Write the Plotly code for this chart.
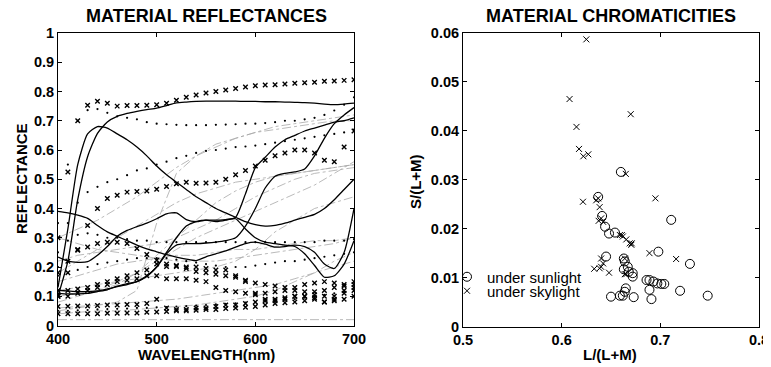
import plotly.graph_objects as go

# ---------------- LEFT: material reflectances ----------------
wavelength = [400, 410, 420, 430, 440, 450, 460, 470, 480, 490, 500, 510, 520, 530, 540, 550,
              560, 570, 580, 590, 600, 610, 620, 630, 640, 650, 660, 670, 680, 690, 700]

# solid spectra
solid_1 = [0.13, 0.33, 0.55, 0.655, 0.68, 0.675, 0.655, 0.635, 0.61, 0.58, 0.545, 0.515, 0.49, 0.465, 0.44, 0.42,
           0.40, 0.385, 0.37, 0.355, 0.345, 0.34, 0.342, 0.35, 0.36, 0.37, 0.38, 0.40, 0.43, 0.465, 0.50]
solid_2 = [0.10, 0.22, 0.43, 0.577, 0.657, 0.696, 0.715, 0.725, 0.732, 0.738, 0.743, 0.752, 0.761, 0.764, 0.766, 0.767,
           0.767, 0.767, 0.767, 0.766, 0.766, 0.765, 0.765, 0.764, 0.763, 0.762, 0.76, 0.757, 0.755, 0.757, 0.76]
solid_3 = [0.39, 0.385, 0.377, 0.366, 0.342, 0.32, 0.305, 0.29, 0.275, 0.262, 0.252, 0.242, 0.234, 0.227, 0.222, 0.235,
           0.245, 0.255, 0.268, 0.28, 0.285, 0.278, 0.268, 0.27, 0.275, 0.27, 0.25, 0.21, 0.195, 0.25, 0.40]
solid_4 = [0.234, 0.22, 0.216, 0.218, 0.24, 0.27, 0.305, 0.325, 0.338, 0.35, 0.365, 0.382, 0.385, 0.362, 0.355, 0.36,
           0.36, 0.362, 0.365, 0.33, 0.30, 0.285, 0.28, 0.275, 0.27, 0.245, 0.205, 0.165, 0.17, 0.21, 0.29]
solid_5 = [0.12, 0.118, 0.116, 0.116, 0.118, 0.125, 0.133, 0.14, 0.15, 0.168, 0.20, 0.245, 0.275, 0.28, 0.28, 0.282,
           0.285, 0.29, 0.30, 0.34, 0.40, 0.47, 0.51, 0.52, 0.525, 0.535, 0.58, 0.64, 0.69, 0.72, 0.745]
solid_6 = [0.11, 0.108, 0.108, 0.11, 0.116, 0.122, 0.135, 0.143, 0.15, 0.17, 0.20, 0.25, 0.30, 0.34, 0.355, 0.36,
           0.355, 0.36, 0.37, 0.45, 0.54, 0.575, 0.61, 0.635, 0.65, 0.665, 0.675, 0.685, 0.695, 0.70, 0.71]
solid_series = [solid_1, solid_2, solid_3, solid_4, solid_5, solid_6]

# spectra drawn with x markers
cross_a = [0.30, 0.525, 0.70, 0.753, 0.767, 0.76, 0.75, 0.752, 0.752, 0.753, 0.755, 0.76, 0.77, 0.78, 0.788, 0.795,
           0.80, 0.805, 0.81, 0.815, 0.82, 0.822, 0.823, 0.826, 0.828, 0.83, 0.832, 0.835, 0.836, 0.838, 0.84]
cross_b = [0.10, 0.18, 0.257, 0.342, 0.40, 0.434, 0.445, 0.456, 0.458, 0.46, 0.466, 0.475, 0.485, 0.49, 0.486, 0.487,
           0.49, 0.50, 0.515, 0.53, 0.545, 0.565, 0.58, 0.59, 0.60, 0.60, 0.59, 0.565, 0.56, 0.61, 0.665]
cross_c = [0.18, 0.22, 0.26, 0.268, 0.28, 0.285, 0.285, 0.28, 0.263, 0.243, 0.223, 0.202, 0.202, 0.195, 0.185, 0.18,
           0.175, 0.17, 0.165, 0.155, 0.145, 0.14, 0.135, 0.13, 0.13, 0.14, 0.145, 0.15, 0.145, 0.14, 0.15]
cross_d = [0.065, 0.066, 0.067, 0.067, 0.068, 0.07, 0.07, 0.072, 0.072, 0.075, 0.09, 0.06, 0.055, 0.055, 0.06, 0.06,
           0.065, 0.07, 0.07, 0.075, 0.08, 0.085, 0.09, 0.095, 0.10, 0.10, 0.105, 0.10, 0.10, 0.11, 0.12]
cross_e = [0.04, 0.04, 0.04, 0.04, 0.04, 0.042, 0.042, 0.043, 0.043, 0.045, 0.046, 0.048, 0.05, 0.05, 0.052, 0.055,
           0.055, 0.058, 0.06, 0.062, 0.065, 0.07, 0.075, 0.078, 0.08, 0.085, 0.09, 0.08, 0.085, 0.09, 0.10]
cross_f = [0.10, 0.10, 0.11, 0.12, 0.13, 0.14, 0.15, 0.155, 0.16, 0.17, 0.17, 0.16, 0.16, 0.16, 0.155, 0.15,
           0.13, 0.12, 0.115, 0.11, 0.105, 0.11, 0.115, 0.12, 0.12, 0.115, 0.115, 0.12, 0.13, 0.135, 0.13]
cross_g = [0.12, 0.12, 0.125, 0.13, 0.14, 0.15, 0.16, 0.17, 0.18, 0.19, 0.21, 0.21, 0.205, 0.20, 0.20, 0.195,
           0.19, 0.19, 0.17, 0.15, 0.11, 0.09, 0.085, 0.09, 0.10, 0.10, 0.095, 0.08, 0.09, 0.12, 0.14]
cross_series = [cross_a, cross_b, cross_c, cross_d, cross_e, cross_f, cross_g]

# spectra drawn with dots
dot_a = [0.35, 0.55, 0.70, 0.736, 0.74, 0.727, 0.715, 0.71, 0.705, 0.695, 0.69, 0.688, 0.686, 0.685, 0.685, 0.685,
         0.686, 0.687, 0.688, 0.69, 0.69, 0.692, 0.695, 0.70, 0.70, 0.705, 0.71, 0.72, 0.735, 0.755, 0.78]
dot_b = [0.20, 0.35, 0.42, 0.456, 0.474, 0.49, 0.50, 0.514, 0.53, 0.537, 0.55, 0.56, 0.572, 0.58, 0.59, 0.597,
         0.60, 0.605, 0.61, 0.612, 0.615, 0.62, 0.625, 0.63, 0.635, 0.64, 0.645, 0.65, 0.655, 0.66, 0.67]
dot_c = [0.25, 0.29, 0.31, 0.315, 0.31, 0.30, 0.30, 0.295, 0.29, 0.29, 0.285, 0.285, 0.285, 0.285, 0.285, 0.285,
         0.285, 0.285, 0.285, 0.285, 0.285, 0.285, 0.285, 0.285, 0.285, 0.285, 0.285, 0.29, 0.29, 0.29, 0.295]
dot_d = [0.17, 0.18, 0.19, 0.20, 0.21, 0.215, 0.22, 0.225, 0.23, 0.23, 0.23, 0.23, 0.225, 0.22, 0.215, 0.21,
         0.205, 0.20, 0.20, 0.20, 0.205, 0.21, 0.215, 0.22, 0.22, 0.225, 0.23, 0.235, 0.24, 0.245, 0.25]
dot_e = [0.05, 0.05, 0.052, 0.053, 0.055, 0.056, 0.057, 0.058, 0.06, 0.06, 0.062, 0.063, 0.065, 0.066, 0.068, 0.07,
         0.072, 0.074, 0.076, 0.078, 0.08, 0.082, 0.085, 0.088, 0.09, 0.095, 0.10, 0.105, 0.11, 0.115, 0.12]
dot_series = [dot_a, dot_b, dot_c, dot_d, dot_e]

# spectra drawn as light dash-dot lines (sampled every 20 nm)
wavelength_coarse = [400, 420, 440, 460, 480, 500, 520, 540, 560, 580, 600, 620, 640, 660, 680, 700]
gray_1 = [0.30, 0.33, 0.36, 0.40, 0.44, 0.49, 0.54, 0.58, 0.61, 0.64, 0.66, 0.68, 0.69, 0.70, 0.71, 0.72]
gray_2 = [0.05, 0.06, 0.07, 0.08, 0.12, 0.35, 0.52, 0.58, 0.62, 0.64, 0.66, 0.67, 0.68, 0.69, 0.70, 0.70]
gray_3 = [0.18, 0.22, 0.26, 0.30, 0.34, 0.38, 0.42, 0.45, 0.47, 0.49, 0.50, 0.51, 0.52, 0.53, 0.54, 0.55]
gray_4 = [0.08, 0.10, 0.12, 0.15, 0.18, 0.22, 0.26, 0.30, 0.33, 0.36, 0.39, 0.42, 0.45, 0.48, 0.52, 0.56]
gray_5 = [0.30, 0.28, 0.26, 0.25, 0.24, 0.23, 0.22, 0.22, 0.22, 0.23, 0.24, 0.25, 0.26, 0.27, 0.28, 0.30]
gray_6 = [0.02, 0.02, 0.02, 0.02, 0.02, 0.02, 0.02, 0.02, 0.02, 0.02, 0.02, 0.02, 0.02, 0.02, 0.02, 0.02]
gray_7 = [0.12, 0.13, 0.14, 0.15, 0.16, 0.17, 0.18, 0.19, 0.20, 0.22, 0.26, 0.32, 0.36, 0.40, 0.42, 0.44]
gray_8 = [0.06, 0.065, 0.07, 0.075, 0.08, 0.085, 0.09, 0.10, 0.11, 0.12, 0.13, 0.14, 0.16, 0.18, 0.20, 0.22]
gray_9 = [0.22, 0.24, 0.25, 0.26, 0.27, 0.28, 0.30, 0.33, 0.36, 0.40, 0.44, 0.47, 0.50, 0.52, 0.53, 0.54]
gray_10 = [0.10, 0.11, 0.12, 0.14, 0.18, 0.24, 0.30, 0.36, 0.42, 0.46, 0.49, 0.51, 0.52, 0.53, 0.54, 0.55]
gray_11 = [0.04, 0.045, 0.05, 0.05, 0.055, 0.06, 0.065, 0.07, 0.08, 0.09, 0.10, 0.12, 0.15, 0.18, 0.22, 0.25]
gray_12 = [0.15, 0.17, 0.19, 0.21, 0.22, 0.23, 0.24, 0.24, 0.25, 0.26, 0.26, 0.27, 0.28, 0.29, 0.29, 0.30]
gray_series = [gray_1, gray_2, gray_3, gray_4, gray_5, gray_6, gray_7, gray_8, gray_9, gray_10, gray_11, gray_12]

# ---------------- RIGHT: chromaticities ----------------
sun_l = [0.660, 0.637, 0.641, 0.644, 0.648, 0.654, 0.645, 0.663, 0.664, 0.663, 0.667, 0.668, 0.672, 0.672,
         0.665, 0.664, 0.650, 0.659, 0.662, 0.673, 0.686, 0.689, 0.693, 0.697, 0.701, 0.704, 0.689, 0.691,
         0.698, 0.711, 0.720, 0.730, 0.748]
sun_s = [0.0316, 0.0265, 0.0226, 0.0204, 0.0190, 0.0192, 0.0143, 0.0139, 0.0133, 0.0117, 0.0122, 0.0112, 0.0109, 0.0102,
         0.0078, 0.0071, 0.0061, 0.0063, 0.0063, 0.0060, 0.0095, 0.0095, 0.0092, 0.0088, 0.0087, 0.0087, 0.0075, 0.0056,
         0.0153, 0.0218, 0.0073, 0.0128, 0.0063]
sky_l = [0.625, 0.608, 0.615, 0.6176, 0.622, 0.627, 0.670, 0.665, 0.695, 0.6216, 0.635, 0.637, 0.6385, 0.640,
         0.6375, 0.642, 0.659, 0.661, 0.662, 0.6655, 0.669, 0.6706, 0.671, 0.689, 0.716, 0.640, 0.642, 0.633,
         0.6385, 0.640, 0.648, 0.664, 0.664, 0.6655]
sky_s = [0.0587, 0.0465, 0.0408, 0.0363, 0.0348, 0.0352, 0.0434, 0.0312, 0.0262, 0.0255, 0.0258, 0.0262, 0.0244, 0.0221,
         0.0216, 0.0214, 0.0187, 0.0187, 0.0184, 0.0178, 0.0170, 0.0167, 0.0170, 0.0150, 0.0138, 0.0139, 0.0129, 0.0118,
         0.0119, 0.0122, 0.0110, 0.0107, 0.0139, 0.0107]

refl_ticks = [0, 0.1, 0.2, 0.3, 0.4, 0.5, 0.6, 0.7, 0.8, 0.9, 1]
wl_ticks = [400, 500, 600, 700]
chrom_x_ticks = [0.5, 0.6, 0.7, 0.8]
chrom_y_ticks = [0, 0.01, 0.02, 0.03, 0.04, 0.05, 0.06]

FONT = "Liberation Sans, Arial, sans-serif"
# the page body keeps its default 8 px margin, so the figure is 8 px smaller than the window
# and all layout positions below are given in window pixels, shifted by that offset
OFF = 8
W, H = 771 - OFF, 367 - OFF


def fx(px):
    return (px - OFF) / W


def fy(py):
    return 1 - (py - OFF) / H


fig = go.Figure()

for g in gray_series:
    fig.add_trace(go.Scatter(x=wavelength_coarse, y=g, mode="lines", xaxis="x", yaxis="y",
                             line=dict(color="#a8a8a8", width=0.8, dash="dashdot"),
                             showlegend=False, hoverinfo="skip"))
for d in dot_series:
    fig.add_trace(go.Scatter(x=wavelength, y=d, mode="markers", xaxis="x", yaxis="y",
                             marker=dict(symbol="circle", size=2.2, color="black"),
                             showlegend=False, hoverinfo="skip"))
for c in cross_series:
    fig.add_trace(go.Scatter(x=wavelength, y=c, mode="markers", xaxis="x", yaxis="y",
                             marker=dict(symbol="x-thin", size=4.5, line=dict(color="black", width=1.4)),
                             showlegend=False, hoverinfo="skip"))
for s in solid_series:
    fig.add_trace(go.Scatter(x=wavelength, y=s, mode="lines", xaxis="x", yaxis="y",
                             line=dict(color="black", width=1.3, shape="spline", smoothing=0.6),
                             showlegend=False, hoverinfo="skip"))

fig.add_trace(go.Scatter(x=sun_l, y=sun_s, mode="markers", xaxis="x2", yaxis="y2", name="under sunlight",
                         legend="legend",
                         marker=dict(symbol="circle-open", size=9, color="black", line=dict(width=1))))
fig.add_trace(go.Scatter(x=sky_l, y=sky_s, mode="markers", xaxis="x2", yaxis="y2", name="under skylight",
                         legend="legend2",
                         marker=dict(symbol="x-thin", size=6, line=dict(color="black", width=1))))

tickfont = dict(family=FONT, size=14.5, color="black", weight="bold")
axis_common = dict(showline=True, linecolor="black", linewidth=1, mirror="ticks", ticks="inside",
                   ticklen=4, tickcolor="black", showgrid=False, zeroline=False, tickfont=tickfont,
                   automargin=False)

legend_common = dict(xanchor="left", yanchor="middle", bgcolor="rgba(0,0,0,0)",
                     font=dict(family=FONT, size=15, color="black"), itemwidth=30, borderwidth=0)


def ann(text, px, py, size, angle=0):
    return dict(text=text, x=fx(px), y=fy(py), xref="paper", yref="paper", xanchor="center",
                yanchor="middle", textangle=angle, showarrow=False, borderpad=0,
                font=dict(family=FONT, size=size, color="black", weight="bold"))


fig.update_layout(
    width=W, height=H,
    margin=dict(l=0, r=0, t=0, b=0, pad=0, autoexpand=False),
    paper_bgcolor="white", plot_bgcolor="white",
    xaxis=dict(domain=[fx(58), fx(354)], range=[400, 700], tickvals=wl_ticks, anchor="y", **axis_common),
    yaxis=dict(domain=[fy(325.5), fy(33)], range=[0, 1], tickvals=refl_ticks, anchor="x", **axis_common),
    xaxis2=dict(domain=[fx(463), fx(759)], range=[0.5, 0.8], tickvals=chrom_x_ticks, anchor="y2", **axis_common),
    yaxis2=dict(domain=[fy(326.5), fy(33)], range=[0, 0.06], tickvals=chrom_y_ticks, anchor="x2",
                **axis_common),
    showlegend=True,
    legend=dict(x=fx(447), y=fy(277), **legend_common),
    legend2=dict(x=fx(447), y=fy(291), **legend_common),
    annotations=[
        ann("MATERIAL REFLECTANCES", 206, 16, 18),
        ann("MATERIAL CHROMATICITIES", 610.5, 16, 18),
        ann("WAVELENGTH(nm)", 206, 354, 15),
        ann("REFLECTANCE", 21, 179, 15, angle=-90),
        ann("L/(L+M)", 610, 354.5, 15),
        ann("S/(L+M)", 415, 182, 15, angle=-90),
    ],
)

fig.write_html("out.html")
